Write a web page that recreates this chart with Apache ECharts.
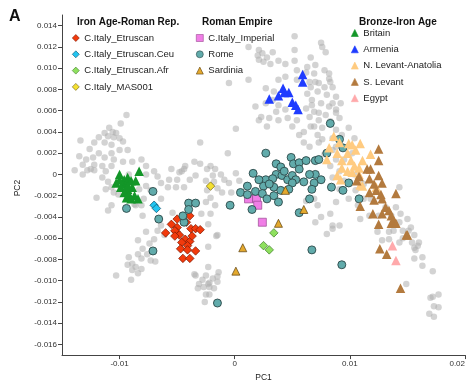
<!DOCTYPE html>
<html><head><meta charset="utf-8">
<script src="https://cdn.jsdelivr.net/npm/echarts@6/dist/echarts.min.js"></script>
<style>html,body{margin:0;padding:0;background:#fff}#c{width:471px;height:387px}</style>
</head><body><div id="c"></div>
<script>
// ---- axis ticks ----
const pc1Ticks = [-0.01, 0, 0.01, 0.02];
const pc2Ticks = [-0.016,-0.014,-0.012,-0.010,-0.008,-0.006,-0.004,-0.002,0,0.002,0.004,0.006,0.008,0.010,0.012,0.014];

// ---- background (grey) samples [PC1, PC2] ----
const greyLeft = [[-0.0094,0.0056],[-0.0099,0.0048],[-0.0109,0.0044],[-0.0113,0.0039],[-0.0106,0.0040],[-0.0103,0.0039],[-0.0118,0.0035],[-0.0110,0.0036],[-0.0105,0.0035],[-0.0100,0.0034],[-0.0134,0.0032],[-0.0122,0.0030],[-0.0113,0.0030],[-0.0107,0.0028],[-0.0097,0.0031],[-0.0093,0.0023],[-0.0126,0.0024],[-0.0100,0.0023],[-0.0118,0.0020],[-0.0107,0.0020],[-0.0135,0.0017],[-0.0129,0.0014],[-0.0123,0.0016],[-0.0113,0.0016],[-0.0105,0.0014],[-0.0097,0.0012],[-0.0089,0.0012],[-0.0081,0.0014],[-0.0132,0.0009],[-0.0122,0.0009],[-0.0115,0.0008],[-0.0107,0.0008],[-0.0139,0.0004],[-0.0128,0.0004],[-0.0122,0.0004],[-0.0112,0.0003],[-0.0077,0.0008],[-0.0070,0.0003],[-0.0067,-0.0002],[-0.0077,0.0000],[-0.0132,0.0000],[-0.0115,-0.0003],[-0.0110,-0.0007],[-0.0107,-0.0012],[-0.0105,-0.0017],[-0.0120,-0.0022],[-0.0107,-0.0029],[-0.0077,-0.0011],[-0.0073,-0.0015],[-0.0079,-0.0023],[-0.0081,-0.0029],[-0.0055,0.0005],[-0.0048,0.0002],[-0.0044,0.0005],[-0.0039,-0.0005],[-0.0057,-0.0005],[-0.0050,-0.0005],[-0.0064,-0.0008],[-0.0058,-0.0012],[-0.0051,-0.0012],[-0.0044,-0.0012],[-0.0064,-0.0023],[-0.0054,-0.0036],[-0.0112,-0.0014],[-0.0125,0.0005],[-0.0092,0.0000],[-0.0083,-0.0014],[-0.0101,-0.0019],[-0.0087,-0.0028]];
const greyLowerLeft = [[-0.0110,-0.0034],[-0.0086,-0.0029],[-0.0080,-0.0039],[-0.0064,-0.0048],[-0.0061,-0.0057],[-0.0067,-0.0053],[-0.0029,-0.0037],[-0.0021,-0.0037],[-0.0016,-0.0058],[-0.0023,-0.0047],[-0.0084,-0.0062],[-0.0074,-0.0065],[-0.0080,-0.0070],[-0.0076,-0.0075],[-0.0084,-0.0075],[-0.0092,-0.0078],[-0.0081,-0.0079],[-0.0089,-0.0084],[-0.0093,-0.0085],[-0.0086,-0.0087],[-0.0081,-0.0089],[-0.0089,-0.0090],[-0.0084,-0.0093],[-0.0090,-0.0099],[-0.0103,-0.0095],[-0.0077,-0.0054],[-0.0070,-0.0061],[-0.0023,-0.0068],[-0.0069,-0.0082],[-0.0073,-0.0081]];
const greyBottomMid = [[-0.0023,-0.0087],[-0.0034,-0.0095],[-0.0028,-0.0099],[-0.0023,-0.0103],[-0.0019,-0.0098],[-0.0015,-0.0101],[-0.0018,-0.0107],[-0.0025,-0.0113],[-0.0015,-0.0096],[-0.0022,-0.0106],[-0.0035,-0.0094],[-0.0025,-0.0095],[-0.0031,-0.0103],[-0.0027,-0.0106],[-0.0022,-0.0102],[-0.0032,-0.0107],[-0.0022,-0.0113],[-0.0026,-0.0120],[-0.0014,-0.0092]];
const greyMiddle = [[-0.0030,0.0030],[0.0001,0.0043],[-0.0006,0.0020],[-0.0035,0.0012],[-0.0030,0.0010],[-0.0021,0.0008],[-0.0017,0.0005],[-0.0024,0.0005],[-0.0012,0.0000],[-0.0019,-0.0001],[-0.0009,-0.0005],[-0.0025,-0.0006],[-0.0018,-0.0007],[-0.0015,-0.0013],[-0.0024,-0.0015],[-0.0011,-0.0017],[-0.0021,-0.0022],[-0.0017,-0.0029],[-0.0025,-0.0026],[-0.0034,-0.0001],[-0.0043,0.0008],[-0.0046,0.0003],[-0.0005,-0.0008],[0.0001,0.0001],[-0.0003,-0.0017],[0.0004,-0.0006],[-0.0015,-0.0057],[0.0060,0.0030]];
const greyTop = [[0.0052,0.0130],[0.0075,0.0124],[0.0076,0.0120],[0.0079,0.0115],[0.0021,0.0117],[0.0024,0.0114],[0.0028,0.0110],[0.0033,0.0115],[0.0025,0.0106],[0.0021,0.0108],[0.0031,0.0104],[0.0038,0.0107],[0.0020,0.0112],[0.0012,0.0120],[0.0052,0.0117],[0.0044,0.0104],[0.0052,0.0107],[0.0054,0.0098],[0.0066,0.0110],[0.0070,0.0103],[0.0063,0.0101],[0.0069,0.0095],[0.0078,0.0098],[0.0082,0.0090],[0.0070,0.0087],[0.0078,0.0082],[0.0085,0.0082],[0.0066,0.0082],[0.0072,0.0078],[0.0080,0.0075],[0.0088,0.0073],[0.0067,0.0070],[0.0075,0.0067],[0.0082,0.0064],[0.0062,0.0062],[0.0069,0.0059],[0.0079,0.0056],[0.0088,0.0058],[0.0065,0.0054],[0.0073,0.0051],[0.0083,0.0050],[0.0066,0.0045],[0.0076,0.0044],[0.0088,0.0042],[0.0060,0.0040],[0.0072,0.0037],[0.0038,0.0089],[0.0044,0.0092],[0.0054,0.0089],[0.0027,0.0081],[0.0034,0.0078],[0.0033,0.0070],[0.0027,0.0067],[0.0038,0.0065],[0.0044,0.0061],[0.0036,0.0059],[0.0023,0.0054],[0.0030,0.0053],[0.0021,0.0051],[0.0038,0.0051],[0.0046,0.0053],[0.0054,0.0051],[0.0012,0.0089],[-0.0005,0.0086],[0.0018,0.0064],[0.0028,0.0045],[0.0050,0.0045],[0.0056,0.0037],[0.0065,0.0026],[0.0073,0.0030],[0.0085,0.0034],[0.0088,0.0026]];
const greyRight = [[0.0062,0.0096],[0.0082,0.0095],[0.0065,0.0087],[0.0073,0.0086],[0.0083,0.0087],[0.0063,0.0076],[0.0067,0.0065],[0.0085,0.0067],[0.0073,0.0058],[0.0088,0.0061],[0.0091,0.0053],[0.0069,0.0045],[0.0099,0.0044],[0.0093,0.0037],[0.0104,0.0034],[0.0076,0.0033],[0.0085,0.0023],[0.0102,0.0020],[0.0078,0.0019],[0.0088,0.0014],[0.0083,0.0008],[0.0091,0.0003],[0.0085,-0.0003],[0.0095,-0.0006],[0.0105,-0.0015],[0.0099,-0.0023],[0.0107,-0.0029],[0.0112,-0.0023],[0.0117,-0.0039],[0.0109,-0.0042],[0.0125,-0.0039],[0.0131,-0.0031],[0.0136,-0.0039],[0.0140,-0.0031],[0.0143,-0.0045],[0.0146,-0.0053],[0.0150,-0.0042],[0.0153,-0.0050],[0.0156,-0.0057],[0.0159,-0.0067],[0.0154,-0.0064],[0.0157,-0.0071],[0.0163,-0.0078],[0.0156,-0.0079],[0.0172,-0.0091],[0.0134,-0.0061],[0.0128,-0.0062],[0.0124,-0.0054],[0.0069,-0.0023],[0.0072,-0.0029],[0.0062,-0.0025],[0.0085,-0.0051],[0.0080,-0.0056],[0.0091,-0.0048],[0.0075,-0.0040],[0.0083,-0.0037],[0.0172,-0.0115],[0.0177,-0.0113],[0.0070,-0.0045],[0.0085,-0.0048],[0.0134,-0.0054],[0.0138,-0.0053],[0.0151,-0.0053],[0.0143,-0.0064],[0.0146,-0.0060],[0.0160,-0.0064],[0.0156,-0.0069],[0.0163,-0.0086],[0.0149,-0.0103],[0.0170,-0.0116],[0.0173,-0.0124],[0.0177,-0.0125],[0.0169,-0.0131],[0.0173,-0.0134],[0.0143,-0.0012],[0.0144,-0.0037],[0.0092,0.0067],[0.0088,-0.0026],[0.0095,0.0014],[0.0104,0.0000],[0.0112,-0.0009],[0.0091,-0.0014],[0.0118,-0.0023]];

// ---- Iron Age - Roman Republic ----
const etruscan = [[-0.0050,-0.0042],[-0.0039,-0.0039],[-0.0055,-0.0047],[-0.0050,-0.0050],[-0.0042,-0.0045],[-0.0038,-0.0051],[-0.0034,-0.0051],[-0.0030,-0.0052],[-0.0060,-0.0055],[-0.0051,-0.0054],[-0.0048,-0.0057],[-0.0043,-0.0061],[-0.0039,-0.0063],[-0.0046,-0.0064],[-0.0041,-0.0067],[-0.0034,-0.0072],[-0.0047,-0.0070],[-0.0041,-0.0071],[-0.0045,-0.0079],[-0.0039,-0.0079],[-0.0052,-0.0053],[-0.0052,-0.0058],[-0.0037,-0.0058]];
const etruscanCeu = [[-0.0070,-0.0029],[-0.0068,-0.0032]];
const etruscanAfr = [[0.0034,-0.0055],[0.0025,-0.0067],[0.0030,-0.0071]];
const mas001 = [[-0.0021,-0.0011]];

// ---- Roman Empire ----
const imperial = [[0.0012,-0.0023],[0.0019,-0.0023],[0.0020,-0.0029],[0.0024,-0.0045]];
const rome = [[0.0027,0.0020],[0.0036,0.0010],[0.0040,0.0007],[0.0049,0.0016],[0.0051,0.0010],[0.0056,0.0011],[0.0062,0.0013],[0.0070,0.0013],[0.0016,0.0001],[0.0036,0.0000],[0.0027,-0.0005],[0.0033,-0.0004],[0.0041,-0.0001],[0.0046,-0.0005],[0.0050,-0.0001],[0.0053,-0.0005],[0.0060,-0.0007],[0.0069,-0.0008],[0.0025,-0.0011],[0.0034,-0.0012],[0.0040,-0.0015],[0.0050,-0.0008],[0.0067,-0.0014],[0.0011,-0.0011],[0.0005,-0.0017],[0.0018,-0.0016],[0.0024,-0.0018],[0.0028,-0.0023],[0.0034,-0.0020],[0.0015,-0.0033],[0.0038,-0.0026],[-0.0004,-0.0029],[0.0056,-0.0036],[0.0067,-0.0071],[-0.0071,-0.0016],[-0.0066,-0.0042],[-0.0071,-0.0072],[-0.0040,-0.0027],[-0.0034,-0.0027],[-0.0040,-0.0033],[-0.0044,-0.0045],[-0.0094,-0.0032],[-0.0045,-0.0039],[-0.0015,-0.0121],[0.0083,0.0048],[0.0091,0.0033],[0.0094,0.0025],[0.0073,0.0014],[0.0070,0.0000],[0.0084,-0.0012],[0.0094,-0.0015],[0.0099,-0.0008],[0.0108,-0.0023],[0.0093,-0.0085],[0.0080,0.0020],[0.0043,0.0003],[0.0056,0.0005],[0.0065,0.0000],[0.0030,-0.0009],[0.0047,-0.0014],[0.0021,-0.0005],[0.0011,-0.0019],[0.0075,-0.0005],[0.0065,-0.0023]];
const sardinia = [[0.0044,-0.0015],[0.0060,-0.0033],[0.0038,-0.0046],[0.0007,-0.0069],[0.0001,-0.0091]];

// ---- Bronze - Iron Age ----
const britain = [[-0.0100,0.0000],[-0.0096,-0.0005],[-0.0093,-0.0003],[-0.0103,-0.0008],[-0.0097,-0.0009],[-0.0094,-0.0008],[-0.0090,-0.0006],[-0.0086,-0.0006],[-0.0083,0.0003],[-0.0099,-0.0012],[-0.0093,-0.0014],[-0.0089,-0.0012],[-0.0096,-0.0017],[-0.0092,-0.0019],[-0.0094,-0.0022],[-0.0087,-0.0020],[-0.0084,-0.0023],[-0.0090,-0.0023],[-0.0100,-0.0005],[-0.0093,-0.0011]];
const armenia = [[0.0059,0.0094],[0.0059,0.0087],[0.0042,0.0081],[0.0047,0.0077],[0.0038,0.0074],[0.0043,0.0077],[0.0030,0.0071],[0.0050,0.0068],[0.0053,0.0065],[0.0055,0.0061]];
const nLevant = [[0.0086,0.0036],[0.0099,0.0029],[0.0109,0.0029],[0.0105,0.0023],[0.0118,0.0019],[0.0089,0.0020],[0.0098,0.0020],[0.0093,0.0013],[0.0101,0.0013],[0.0111,0.0013],[0.0104,0.0008],[0.0108,0.0006],[0.0098,0.0003],[0.0102,0.0002],[0.0092,-0.0005],[0.0108,0.0000],[0.0123,-0.0012],[0.0111,-0.0011],[0.0091,0.0030],[0.0082,0.0025],[0.0102,0.0028],[0.0080,0.0014],[0.0093,0.0006],[0.0089,-0.0001],[0.0109,-0.0010]];
const sLevant = [[0.0125,0.0024],[0.0125,0.0013],[0.0115,0.0005],[0.0118,0.0005],[0.0108,-0.0002],[0.0117,-0.0004],[0.0125,-0.0001],[0.0128,-0.0008],[0.0106,-0.0006],[0.0121,-0.0009],[0.0123,-0.0015],[0.0117,-0.0017],[0.0127,-0.0019],[0.0140,-0.0018],[0.0121,-0.0024],[0.0128,-0.0023],[0.0131,-0.0031],[0.0134,-0.0034],[0.0109,-0.0030],[0.0120,-0.0037],[0.0128,-0.0037],[0.0136,-0.0039],[0.0125,-0.0047],[0.0136,-0.0046],[0.0138,-0.0043],[0.0150,-0.0057],[0.0140,-0.0046],[0.0149,-0.0057],[0.0126,-0.0070],[0.0132,-0.0075],[0.0144,-0.0107]];
const egypt = [[0.0137,-0.0067],[0.0140,-0.0081]];

const grey = greyLeft.concat(greyLowerLeft, greyBottomMid, greyMiddle, greyTop, greyRight);

const FONT = 'Liberation Sans, Arial, Helvetica, sans-serif';
function sc(name, data, symbol, size, color, border, bw) {
  return { type: 'scatter', name: name, data: data, symbol: symbol, symbolSize: size,
    itemStyle: { color: color, borderColor: border || color, borderWidth: bw || 0, opacity: 1 },
    emphasis: { disabled: true } };
}
const legendBase = { orient: 'vertical', itemWidth: 7, itemHeight: 7, itemGap: 6.3, padding: 0,
  itemStyle: { borderWidth: 0.6 },
  textStyle: { fontFamily: FONT, fontSize: 9.5, color: '#222' }, selectedMode: false };

const chart = echarts.init(document.getElementById('c'), null, { renderer: 'canvas' });
chart.setOption({
  animation: false,
  backgroundColor: '#fff',
  textStyle: { fontFamily: FONT },
  title: [
    { text: 'A', left: 4, top: 4, textStyle: { fontFamily: FONT, fontSize: 16, fontWeight: 'bold', color: '#111' } },
    { text: 'Iron Age-Roman Rep.', left: 72, top: 12, textStyle: { fontFamily: FONT, fontSize: 10, fontWeight: 'bold', color: '#111' } },
    { text: 'Roman Empire', left: 197, top: 12, textStyle: { fontFamily: FONT, fontSize: 10, fontWeight: 'bold', color: '#111' } },
    { text: 'Bronze-Iron Age', left: 354, top: 12, textStyle: { fontFamily: FONT, fontSize: 10, fontWeight: 'bold', color: '#111' } }
  ],
  legend: [
    Object.assign({}, legendBase, { left: 72, top: 33, data: ['C.Italy_Etruscan','C.Italy_Etruscan.Ceu','C.Italy_Etruscan.Afr','C.Italy_MAS001'] }),
    Object.assign({}, legendBase, { left: 196, top: 33, data: ['C.Italy_Imperial','Rome','Sardinia'] }),
    Object.assign({}, legendBase, { left: 351, top: 28, data: ['Britain','Armenia','N. Levant-Anatolia','S. Levant','Egypt'] })
  ],
  grid: { left: 62, right: 6, top: 15, bottom: 29 },
  xAxis: {
    type: 'value', min: -0.015, max: 0.02,
    name: 'PC1', nameLocation: 'middle', nameGap: 15,
    nameTextStyle: { fontFamily: FONT, fontSize: 8.5, color: '#222' },
    axisLine: { onZero: false, lineStyle: { color: '#444', width: 1 } },
    axisTick: { show: true, length: 4, customValues: pc1Ticks, lineStyle: { color: '#444' } },
    axisLabel: { customValues: pc1Ticks, fontSize: 8, color: '#333', margin: 5, alignMaxLabel: 'right',
      formatter: v => (Math.abs(v) < 1e-12 ? '0' : String(+v.toFixed(3))) },
    splitLine: { show: false }
  },
  yAxis: {
    type: 'value', min: -0.017, max: 0.015,
    name: 'PC2', nameLocation: 'middle', nameGap: 40, nameRotate: 90,
    nameTextStyle: { fontFamily: FONT, fontSize: 8.5, color: '#222', padding: [0, 0, 0, -6] },
    axisLine: { onZero: false, lineStyle: { color: '#444', width: 1 } },
    axisTick: { show: true, length: 4, customValues: pc2Ticks, lineStyle: { color: '#444' } },
    axisLabel: { customValues: pc2Ticks, fontSize: 8, color: '#333', margin: 5,
      formatter: v => (Math.abs(v) < 1e-12 ? '0' : v.toFixed(3)) },
    splitLine: { show: false }
  },
  series: [
    Object.assign(sc('Present-day', grey, 'circle', 6.5, 'rgba(175,175,175,0.55)'), { z: 1 }),
    sc('C.Italy_Etruscan', etruscan, 'diamond', 8.5, '#f23a0c', '#7a1a05', 0.7),
    sc('C.Italy_Etruscan.Ceu', etruscanCeu, 'diamond', 8.5, '#22c4f0', '#10506a', 0.7),
    sc('C.Italy_Etruscan.Afr', etruscanAfr, 'diamond', 8.5, '#8ee05e', '#3f7a2a', 0.7),
    sc('C.Italy_MAS001', mas001, 'diamond', 8.5, '#f4e030', '#6a5a10', 0.7),
    sc('C.Italy_Imperial', imperial, 'rect', 8, '#f07ee6', '#9a4a92', 0.7),
    sc('Rome', rome, 'circle', 8, '#61abab', '#2c4848', 0.9),
    sc('Sardinia', sardinia, 'triangle', 8, '#e4a92e', '#5a3e0c', 0.7),
    sc('Britain', britain, 'triangle', 9.5, '#139628'),
    sc('Armenia', armenia, 'triangle', 9.5, '#1f3cff'),
    sc('N. Levant-Anatolia', nLevant, 'triangle', 9.5, '#ffcb80'),
    sc('S. Levant', sLevant, 'triangle', 9.5, '#b37a3e'),
    sc('Egypt', egypt, 'triangle', 9.5, '#ffa9ab')
  ]
});
</script>
</body></html>
